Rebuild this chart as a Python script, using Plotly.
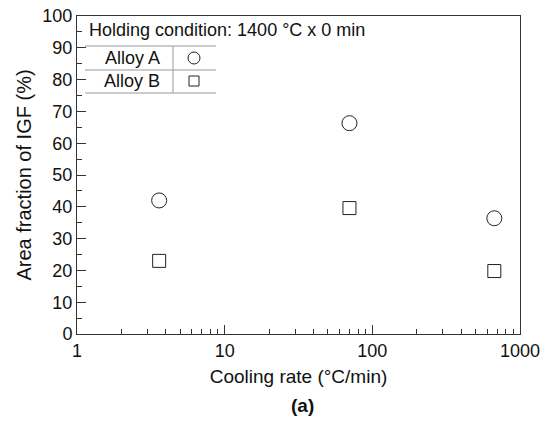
import plotly.graph_objects as go

cooling_rate = [3.6, 70, 670]
alloy_a = [42.0, 66.3, 36.4]
alloy_b = [23.0, 39.6, 19.8]
x_ticks = [1, 10, 100, 1000]
x_minor = [m * d for d in (1, 10, 100) for m in range(2, 10)]
y_ticks = list(range(0, 101, 10))
y_minor = list(range(5, 100, 10))

W, H = 543, 429
L, R, T, B = 77, 23, 16, 95
pw, ph = W - L - R, H - T - B

def px(x):
    return (x - L) / pw

def py(y):
    return (H - B - y) / ph

font = "Liberation Sans, Arial, sans-serif"
fig = go.Figure()
fig.add_trace(go.Scatter(x=cooling_rate, y=alloy_a, mode="markers", name="Alloy A",
                         marker=dict(symbol="circle-open", size=15, color="#222", line=dict(width=1))))
fig.add_trace(go.Scatter(x=cooling_rate, y=alloy_b, mode="markers", name="Alloy B",
                         marker=dict(symbol="square-open", size=13, color="#222", line=dict(width=1))))

axis_common = dict(showline=True, linecolor="#333", linewidth=1, mirror=True, ticks="inside",
                   tickcolor="#333", ticklen=9, showgrid=False, zeroline=False, automargin=False,
                   tickfont=dict(family=font, size=18, color="#111"))
fig.update_xaxes(type="log", range=[0, 3], tickvals=x_ticks, ticktext=[str(v) for v in x_ticks],
                 minor=dict(tickmode="array", tickvals=x_minor, ticks="inside", ticklen=5, tickcolor="#333"),
                 title=dict(text="Cooling rate (°C/min)", font=dict(family=font, size=19, color="#111"), standoff=10),
                 **axis_common)
fig.update_yaxes(range=[0, 100], tickvals=y_ticks,
                 minor=dict(tickmode="array", tickvals=y_minor, ticks="inside", ticklen=5, tickcolor="#333"),
                 title=dict(text="Area fraction of IGF (%)", font=dict(family=font, size=20, color="#111"), standoff=5),
                 **axis_common)

gray = "#999"
shapes = []
for yy in (46, 70, 93):
    shapes.append(dict(type="line", xref="paper", yref="paper", x0=px(85), x1=px(216), y0=py(yy), y1=py(yy),
                       line=dict(color=gray, width=1)))
shapes.append(dict(type="line", xref="paper", yref="paper", x0=px(173), x1=px(173), y0=py(46), y1=py(93),
                   line=dict(color=gray, width=1)))

annotations = [
    dict(text="Holding condition: 1400 °C x 0 min", xref="paper", yref="paper", x=px(87), y=py(30),
         xanchor="left", yanchor="middle", showarrow=False, font=dict(family=font, size=18, color="#111")),
    dict(text="Alloy A", xref="paper", yref="paper", x=px(132), y=py(58), xanchor="center", yanchor="middle",
         showarrow=False, font=dict(family=font, size=18, color="#111")),
    dict(text="Alloy B", xref="paper", yref="paper", x=px(132), y=py(81), xanchor="center", yanchor="middle",
         showarrow=False, font=dict(family=font, size=18, color="#111")),
    dict(text="<b>(a)</b>", xref="paper", yref="paper", x=px(302), y=py(405), xanchor="center", yanchor="middle",
         showarrow=False, font=dict(family=font, size=19, color="#111")),
]

fig.add_trace(go.Scatter(x=[10 ** ((194 - L) / pw * 3)], y=[(H - B - 58) / ph * 100], mode="markers",
                         showlegend=False, hoverinfo="skip",
                         marker=dict(symbol="circle-open", size=12, color="#222", line=dict(width=1))))
fig.add_trace(go.Scatter(x=[10 ** ((194 - L) / pw * 3)], y=[(H - B - 81) / ph * 100], mode="markers",
                         showlegend=False, hoverinfo="skip",
                         marker=dict(symbol="square-open", size=10, color="#222", line=dict(width=1))))

fig.update_layout(width=W, height=H, margin=dict(l=L, r=R, t=T, b=B), showlegend=False,
                  plot_bgcolor="white", paper_bgcolor="white", shapes=shapes, annotations=annotations)
fig.write_html("out.html")
